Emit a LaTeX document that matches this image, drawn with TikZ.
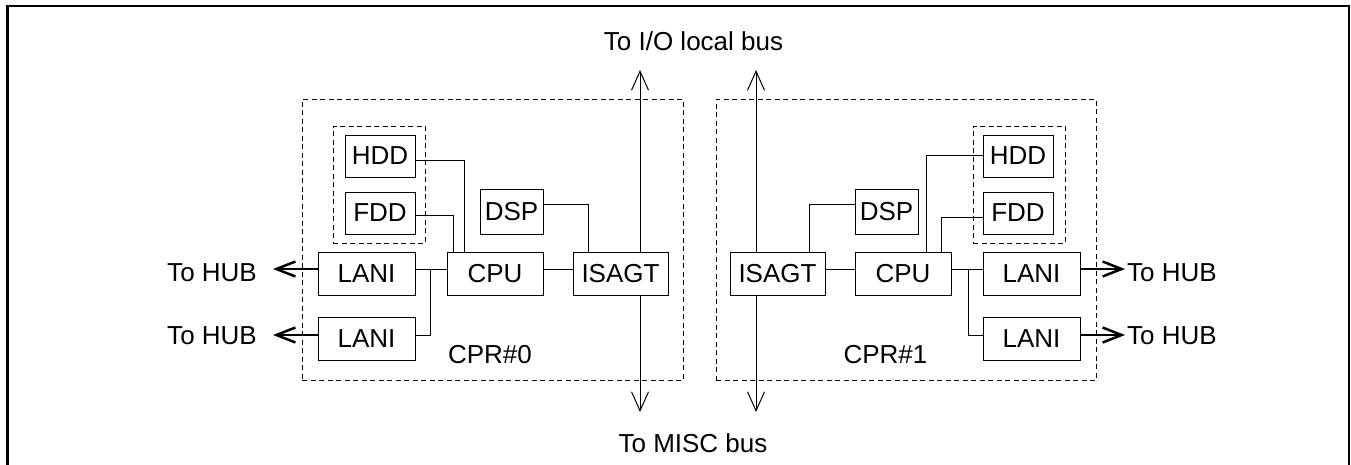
\documentclass[tikz,border=0pt]{standalone}
\usepackage{fontspec}
\setmainfont{Liberation Sans}
\usetikzlibrary{arrows.meta}
\begin{document}
\begin{tikzpicture}[x=1pt,y=-1pt,
  box/.style={draw,line width=1pt,fill=white,inner sep=0pt,minimum height=43pt,font=\fontsize{26}{30}\selectfont},
  grp/.style={draw,line width=1pt,dash pattern=on 5pt off 3.5pt,inner sep=0pt},
  wire/.style={line width=1pt},
  bus/.style={line width=1pt,-{Straight Barb[length=19pt,width=17pt]}},
  hub/.style={line width=2.5pt,-{Straight Barb[length=19pt,width=15pt]}},
  lbl/.style={inner sep=0pt,font=\fontsize{26}{30}\selectfont}]
\path[use as bounding box] (0,0) rectangle (1351,464);
\clip (0,0) rectangle (1351,464);
\draw[line width=2.5pt] (7.5,6) rectangle (1349,490);

% group frames
\node[grp,minimum width=381pt,minimum height=281pt] (cpr0) at (492.5,239.5) {};
\node[grp,minimum width=380pt,minimum height=281pt] (cpr1) at (906,239.5) {};
\node[grp,minimum width=92pt,minimum height=117pt] (inner0) at (379,184.5) {};
\node[grp,minimum width=92pt,minimum height=117pt] (inner1) at (1019,184.5) {};

% left unit
\node[box,minimum width=70pt,minimum height=42pt] (hdd0) at (380,156) {HDD};
\node[box,minimum width=70pt,minimum height=42pt] (fdd0) at (380,213) {FDD};
\node[box,minimum width=63pt,minimum height=45pt] (dsp0) at (511.5,211.5) {DSP};
\node[box,minimum width=97pt] (lani0a) at (366.5,273.5) {LANI};
\node[box,minimum width=97pt] (lani0b) at (366.5,338.5) {LANI};
\node[box,minimum width=96pt] (cpu0) at (495,273.5) {CPU};
\node[box,minimum width=95pt] (isagt0) at (620.5,273.5) {ISAGT};

% right unit
\node[box,minimum width=70pt,minimum height=42pt] (hdd1) at (1018,156) {HDD};
\node[box,minimum width=70pt,minimum height=42pt] (fdd1) at (1018,213) {FDD};
\node[box,minimum width=63pt,minimum height=45pt] (dsp1) at (886.5,211.5) {DSP};
\node[box,minimum width=95pt] (isagt1) at (777.5,273.5) {ISAGT};
\node[box,minimum width=96pt] (cpu1) at (903,273.5) {CPU};
\node[box,minimum width=97pt] (lani1a) at (1031.5,273.5) {LANI};
\node[box,minimum width=97pt] (lani1b) at (1031.5,338.5) {LANI};

% labels
\node[lbl,anchor=base] (iolbl) at (693.5,50) {To I/O local bus};
\node[lbl,anchor=base] (misclbl) at (693,452.5) {To MISC bus};
\node[lbl,anchor=base] (cpr0lbl) at (490,363) {CPR\#0};
\node[lbl,anchor=base] (cpr1lbl) at (885.5,363) {CPR\#1};
\node[lbl,anchor=base east] (hub0a) at (257,281) {To HUB};
\node[lbl,anchor=base east] (hub0b) at (257,344) {To HUB};
\node[lbl,anchor=base west] (hub1a) at (1127,281) {To HUB};
\node[lbl,anchor=base west] (hub1b) at (1127,344) {To HUB};

% coordinates
\coordinate (up0) at (640,70);
\coordinate (dn0) at (640,412);
\coordinate (up1) at (756,70);
\coordinate (dn1) at (756,412);
\coordinate (j0) at (430,269);
\coordinate (j1) at (968,269);
\coordinate (tip0a) at (273,269);
\coordinate (tip0b) at (273,335);
\coordinate (tip1a) at (1125,269);
\coordinate (tip1b) at (1125,335);

% left connectors
\draw[wire] ([yshift=-4pt]hdd0.east) -| ([xshift=18pt]cpu0.north west);
\draw[wire] ([yshift=-2pt]fdd0.east) -| ([xshift=7pt]cpu0.north west);
\draw[wire] ([yshift=7.5pt]dsp0.east) -| ([xshift=16pt]isagt0.north west);
\draw[wire] ([yshift=4.5pt]lani0a.east) -- ([yshift=4.5pt]cpu0.west);
\draw[wire] (j0) |- ([yshift=3.5pt]lani0b.east);
\draw[wire] ([yshift=4.5pt]cpu0.east) -- ([yshift=4.5pt]isagt0.west);
\draw[bus] (isagt0.north -| up0) -- (up0);
\draw[bus] (isagt0.south -| dn0) -- (dn0);
\draw[hub] ([yshift=4.5pt]lani0a.west) -- (tip0a);
\draw[hub] ([yshift=3.5pt]lani0b.west) -- (tip0b);

% right connectors
\draw[wire] ([yshift=1pt]hdd1.west) -| ([xshift=72pt]cpu1.north west);
\draw[wire] ([yshift=-4pt]fdd1.west) -| ([xshift=87pt]cpu1.north west);
\draw[wire] ([yshift=7.5pt]dsp1.west) -| ([xshift=80pt]isagt1.north west);
\draw[wire] ([yshift=4.5pt]isagt1.east) -- ([yshift=4.5pt]cpu1.west);
\draw[wire] ([yshift=4.5pt]cpu1.east) -- ([yshift=4.5pt]lani1a.west);
\draw[wire] (j1) |- ([yshift=3.5pt]lani1b.west);
\draw[bus] (isagt1.north -| up1) -- (up1);
\draw[bus] (isagt1.south -| dn1) -- (dn1);
\draw[hub] ([yshift=4.5pt]lani1a.east) -- (tip1a);
\draw[hub] ([yshift=3.5pt]lani1b.east) -- (tip1b);
\end{tikzpicture}
\end{document}
